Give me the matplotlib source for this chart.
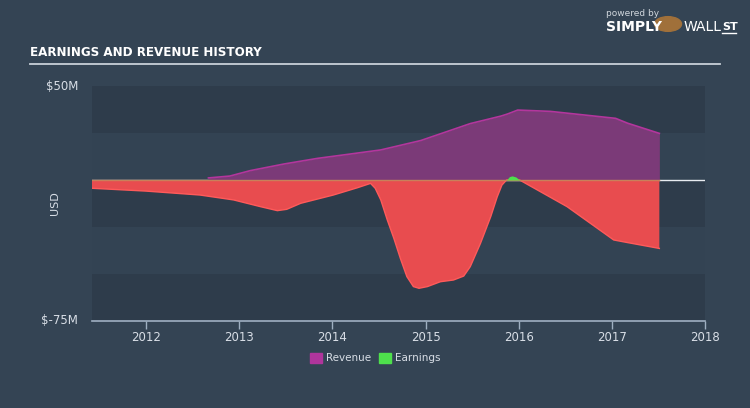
import numpy as np
import matplotlib
matplotlib.use("Agg")
import matplotlib.pyplot as plt
from matplotlib.patches import Rectangle

# revenue history (USD millions)
rev_t = [2012.67, 2012.90, 2013.12, 2013.48, 2013.84, 2014.19, 2014.52, 2014.95,
         2015.48, 2015.81, 2015.88, 2015.99, 2016.34, 2016.70, 2017.04, 2017.17,
         2017.51]
rev_v = [1.1, 2.1, 5.0, 8.5, 11.5, 13.8, 16.0, 21.0,
         30.0, 34.0, 35.1, 37.2, 36.5, 34.6, 32.8, 30.2,
         24.8]

# earnings history (USD millions)
earn_t = [2011.42, 2012.00, 2012.58, 2012.94, 2013.23, 2013.41, 2013.51, 2013.66,
          2014.01, 2014.27, 2014.41, 2014.46, 2014.52, 2014.59, 2014.66, 2014.73,
          2014.80, 2014.87, 2014.93, 2015.02, 2015.16, 2015.30, 2015.41, 2015.48,
          2015.59, 2015.70, 2015.77, 2015.82, 2015.87, 2015.90, 2015.93, 2015.97,
          2016.01, 2016.52, 2017.02, 2017.17, 2017.51]
earn_v = [-4.4, -5.9, -8.0, -10.6, -14.2, -16.3, -15.6, -12.4,
          -8.0, -4.1, -1.8, -4.4, -10.6, -21.3, -31.0, -41.7,
          -51.4, -56.7, -57.6, -56.7, -54.1, -53.2, -51.1, -46.1,
          -33.7, -19.5, -8.9, -2.7, 0.0, 1.8, 2.2, 1.6,
          0.0, -14.2, -31.9, -33.3, -36.4]

years = [2012, 2013, 2014, 2015, 2016, 2017, 2018]
ytick_vals = [50, -75]
ytick_labels = ["$50M", "$-75M"]

bg = "#344454"
band_dark = "#2e3c4b"
band_light = "#334353"
rev_fill = "#7b3a78"
rev_edge = "#b3369d"
earn_fill = "#e84c4f"
earn_edge = "#ff5a5a"
green = "#4ee04c"
axis_col = "#9fb0c2"
text_col = "#d8dee6"

fig = plt.figure(figsize=(7.5, 4.08), dpi=100, facecolor=bg)
ax = fig.add_axes([92 / 750, 87 / 408, 613 / 750, 235 / 408])
ax.set_facecolor(bg)
ax.set_xlim(2011.42, 2018.0)
ax.set_ylim(-75, 50)

# alternating horizontal bands
for i, top in enumerate([50, 25, 0, -25, -50]):
    ax.axhspan(top - 25, top, color=band_dark if i % 2 == 0 else band_light,
               lw=0, zorder=0)

# revenue area
rt = np.array(rev_t)
rv = np.array(rev_v)
ax.fill_between(rt, rv, 0, color=rev_fill, lw=0, zorder=2)
ax.plot(rt, rv, color=rev_edge, lw=1.2, zorder=3)

# earnings area
et = np.array(earn_t)
ev = np.array(earn_v)
ax.fill_between(et, ev, 0, where=ev <= 0, interpolate=True, color=earn_fill,
                lw=0, zorder=2)
ax.fill_between(et, ev, 0, where=ev >= 0, interpolate=True, color=green,
                lw=0, zorder=4)
ax.plot(et, np.minimum(ev, 0), color=earn_edge, lw=1.0, zorder=3)

# zero line
ax.axhline(0, color="#e8ecf0", lw=1.0, zorder=1)
ax.plot([2011.42, 2017.51], [0, 0], color="#c9805a", lw=1.0, zorder=3)

for s in ["top", "right", "left"]:
    ax.spines[s].set_visible(False)
ax.spines["bottom"].set_color(axis_col)
ax.spines["bottom"].set_linewidth(1.2)

ax.set_xticks(years)
ax.set_xticklabels([str(y) for y in years])
ax.tick_params(axis="x", colors=axis_col, length=6, width=1, labelsize=8.5,
               labelcolor=text_col, pad=1)
ax.set_yticks(ytick_vals)
ax.set_yticklabels(ytick_labels)
ax.tick_params(axis="y", length=0, labelsize=8.5, labelcolor=text_col, pad=10)
for lbl in ax.get_yticklabels():
    lbl.set_verticalalignment("center")

fig.text(55 / 750, 1 - 203 / 408, "USD", rotation=90, color=text_col,
         fontsize=8, ha="center", va="center")

# title and rule
fig.text(30 / 750, 1 - 52 / 408, "EARNINGS AND REVENUE HISTORY",
         family="DejaVu Sans", stretch="condensed", weight="bold",
         color="white", fontsize=9.5, ha="left", va="center")
fig.add_artist(plt.Line2D([30 / 750, 720 / 750], [1 - 63.5 / 408, 1 - 63.5 / 408],
                          color="#c8d0d8", lw=1.3, transform=fig.transFigure))

# logo
fig.text(606 / 750, 1 - 14 / 408, "powered by", color="#d0d6dc", fontsize=6.5,
         ha="left", va="center")
fig.text(606 / 750, 1 - 27 / 408, "SIMPLY", color="white", fontsize=10,
         weight="bold", ha="left", va="center")
fig.add_artist(plt.Circle((668 / 750, 1 - 24 / 408), 0.018, color="#a0703a",
                          transform=fig.transFigure))
fig.text(684 / 750, 1 - 27 / 408, "WALL", color="white", fontsize=10,
         ha="left", va="center")
fig.text(722 / 750, 1 - 27 / 408, "ST", color="white", fontsize=8,
         weight="bold", ha="left", va="center")
fig.add_artist(plt.Line2D([722 / 750, 736 / 750], [1 - 33 / 408, 1 - 33 / 408],
                          color="white", lw=1, transform=fig.transFigure))

# legend
for x0, col, name in [(310, "#b0359c", "Revenue"), (379, green, "Earnings")]:
    fig.add_artist(Rectangle((x0 / 750, 1 - 363 / 408), 12 / 750, 10 / 408,
                             color=col, transform=fig.transFigure))
    fig.text((x0 + 16) / 750, 1 - 358 / 408, name, color=text_col, fontsize=7.5,
             ha="left", va="center")

fig.savefig("out.png", dpi=100, facecolor=bg)
